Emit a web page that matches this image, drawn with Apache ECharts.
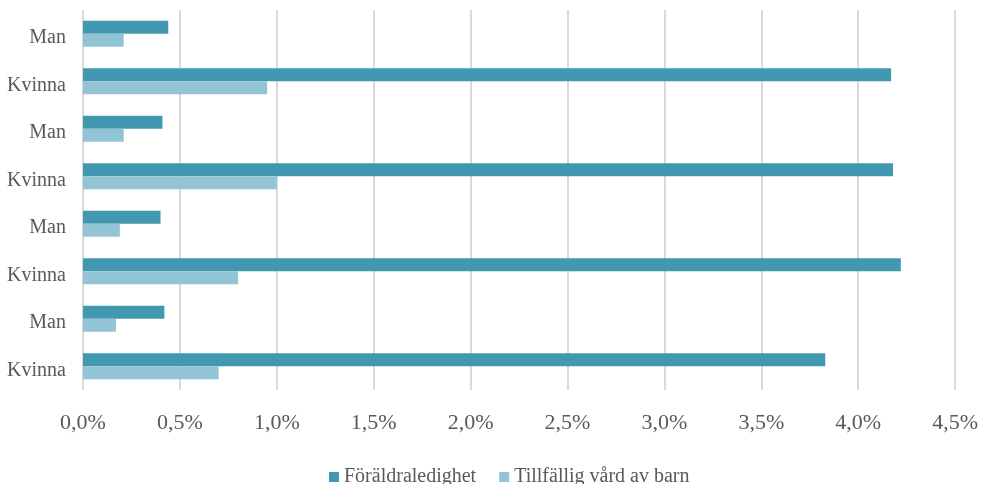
<!DOCTYPE html>
<html>
<head>
<meta charset="utf-8">
<style>
  html, body { margin: 0; padding: 0; background: #ffffff; }
  #chart { width: 981px; height: 484px; }
</style>
<script src="https://cdn.jsdelivr.net/npm/echarts@6/dist/echarts.min.js"></script>
</head>
<body>
<div id="chart"></div>
<script>
// Categories listed from the bottom of the axis to the top
const categories = ['Kvinna', 'Man', 'Kvinna', 'Man', 'Kvinna', 'Man', 'Kvinna', 'Man'];
// Share of time (percent)
const foraldraledighet = [3.83, 0.42, 4.22, 0.40, 4.18, 0.41, 4.17, 0.44];
const tillfalligVard = [0.70, 0.17, 0.80, 0.19, 1.00, 0.21, 0.95, 0.21];
const seriesNames = ['Föräldraledighet', 'Tillfällig vård av barn'];

const FONT = '"Liberation Serif", "DejaVu Serif", serif';
const TEXT = '#595959';

const chart = echarts.init(document.getElementById('chart'), null, { renderer: 'canvas' });

chart.setOption({
  animation: false,
  backgroundColor: '#ffffff',
  textStyle: { fontFamily: FONT },
  grid: { left: 83, right: 25, top: 10, bottom: 94, containLabel: false },
  legend: {
    data: seriesNames,
    left: 329,
    top: 467,
    padding: 0,
    itemGap: 23,
    itemWidth: 10,
    itemHeight: 10,
    icon: 'rect',
    textStyle: { fontFamily: FONT, fontSize: 20, color: TEXT, lineHeight: 20 }
  },
  xAxis: {
    type: 'value',
    min: 0,
    max: 4.5,
    interval: 0.5,
    axisLine: { show: false },
    axisTick: { show: false },
    splitLine: { show: true, lineStyle: { color: '#d9d9d9', width: 2 } },
    axisLabel: {
      margin: 22,
      fontFamily: FONT,
      fontSize: 22,
      lineHeight: 22,
      color: TEXT,
      formatter: v => v.toFixed(1).replace('.', ',') + '%'
    }
  },
  yAxis: {
    type: 'category',
    data: categories,
    axisLine: { show: false },
    axisTick: { show: false },
    splitLine: { show: false },
    axisLabel: {
      margin: 17,
      fontFamily: FONT,
      fontSize: 20,
      color: TEXT,
      verticalAlign: 'top',
      lineHeight: 8
    }
  },
  series: [
    {
      name: seriesNames[0],
      type: 'bar',
      data: foraldraledighet,
      itemStyle: { color: '#4298b0' },
      barGap: '0%',
      barCategoryGap: '45%'
    },
    {
      name: seriesNames[1],
      type: 'bar',
      data: tillfalligVard,
      itemStyle: { color: '#93c4d5' },
      barGap: '0%',
      barCategoryGap: '45%'
    }
  ]
});
</script>
</body>
</html>
